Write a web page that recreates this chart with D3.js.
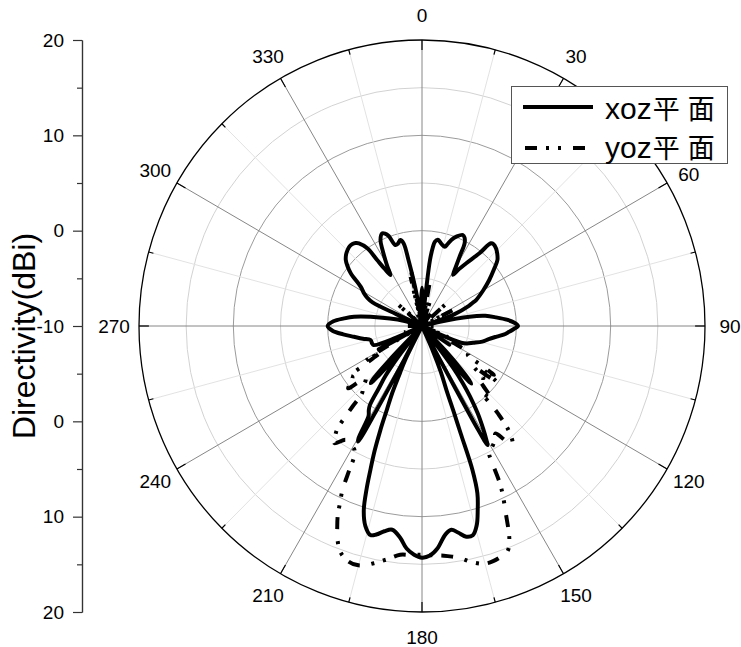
<!DOCTYPE html>
<html><head><meta charset="utf-8">
<script src="https://cdn.jsdelivr.net/npm/d3@7"></script>
<style>body{margin:0;background:#fff}svg{display:block}</style>
</head><body>
<script>
// ---------- data ----------
const xozAngles = [0,2,4,6,6.5,7,8,8.8,10.5,12.1,14,16.2,17.5,19,21.5,24.4,26,27.5,28.7,30,31.5,33,35.5,38.6,40.1,41.5,43.9,46.5,49.1,52,55.9,60,64.6,65.6,67,70.6,73,74.5,76.6,79,81,83.4,86,88,90,92,94,96,98,101,104.4,108,111,113,115,117,121,124,125.5,135,136.5,137.5,138.5,139.2,140,141,142,143,144.2,145.5,147.2,149,150.3,150.9,151.3,151.6,152,155,156.3,157.5,158.9,159.6,160,160.5,161.5,163,164.5,166.2,168,170,171.7,173.5,176,178,180,182,184,186,188.4,190.5,192.5,194,196,197.7,199,199.9,201,202,203,204.2,205.3,206.6,207.5,208,208.6,209.2,209.8,211,212.5,213.6,215,216.5,218,219,220.5,221.5,222.2,223,224,225,239,241.9,244,246,248.7,251,254.9,258,261.1,264,267,270,273,275.5,277.7,280.1,283,285.8,288,293,294.5,295.3,297,299,302.4,306.2,308.5,310.6,313,315.3,317.5,319.4,321,322.4,324.6,325.5,326.5,327.9,329.5,330.7,332.3,334,336.5,338,339.5,341.6,343.5,345.7,347.3,348.3,349.9,351,352,356,358];
const xozDB = [-6,-7.5,-10.5,-10.5,-6.5,-3,-1.6,-1.05,-0.8,-0.96,-1.2,-1.34,-1,-0.46,0.1,0.48,0.3,-0.22,-1.7,-2.8,-3.7,-3,-1.92,-0.24,1.34,1.45,1.31,1,0.58,-0.3,-1.39,-2.5,-3.65,-4.1,-4.6,-6.5,-9,-10.5,-8.06,-4.87,-3.2,-2.1,-0.9,-0.2,0.18,-0.3,-0.8,-1.3,-2,-2.8,-3.4,-4.3,-4.9,-5.5,-8,-10.5,-10.5,-6.5,-10.5,-10.5,-6,-4,-2.5,-2,-3.5,-10.5,-8,-4.5,-2.6,-1,0.9,2.6,3.8,4.3,2.5,-3,-10.5,-10.5,-7.06,-4.8,-2.8,0,2,6,8.5,10.2,11.7,12.6,12.6,12,11.6,12,13.4,14.1,14.3,14,13.4,12.3,11.6,11.9,12.4,12.6,11.8,10.3,8,6.1,4,1.8,-0.5,-2.3,-4.5,-6,-10.5,-6,0,3.9,3.5,1,0.5,0,-2,-3.5,-6,-10.5,-6,-3,-1.9,-2.5,-5,-10.5,-10.5,-4.8,-10.5,-7,-4.5,-4.4,-4.35,-3.6,-2.7,-1.6,-0.5,0,-0.6,-1.7,-2.73,-4.46,-6.5,-7.96,-10.5,-10.5,-7,-4.2,-3.5,-3,-2.3,-0.64,0.1,0.64,1,1.22,1.35,1.33,1.2,0.95,0,-1.6,-2.8,-3.7,-2.8,-2.06,-1,0.04,0.6,0.45,0.08,-1.04,-1,-0.69,-1.1,-2.93,-5.8,-8,-10.5,-10.5,-7.5];

const yozAngles = [0,3,8,10.2,12,16,18.2,20.5,34,36,38,45,47.5,50,60,63,65.5,70,72,74,88,90,92,110,113,115.5,118,120,122.1,123.2,124,125,126.6,128,130,132,134,136,137.7,138.7,140,142.1,143.5,145.4,147,149,151.9,152.5,153.6,155.7,157.6,159,160.9,163,165.2,168.1,170.5,172.5,174.5,176.8,179,181,183,185.5,188.6,191.6,193.5,195.3,197.5,199.9,201.7,203,204.1,205.1,206.1,207,207.7,209,211,214,217.1,218.5,219.8,220.5,221.1,222,224,227.5,230.1,232,234.2,235.5,236.4,237.8,238.4,240,243,248,250,252,268,270,272,283,285,287,309,311.8,313,314,316,320,322,324,338,340,342,345.5,346.8,347.6,348.6,349.5,352,356,358];
const yozDB = [-8,-10.5,-10.5,-5.3,-10.5,-10.5,-7.3,-10.5,-10.5,-8,-10.5,-10.5,-6.6,-10.5,-10.5,-5.9,-10.5,-10.5,-8,-10.5,-10.5,-8.5,-10.5,-10.5,-7,-10.5,-6,-4.3,-4.27,-2.5,-0.8,-2,0,-3,-1.5,-2.05,-1,0.5,-0.45,2.1,4.25,5.6,5,3.7,4.2,4.6,5.1,5.9,8.8,11.6,14.3,15.3,15.6,15.8,15.8,15.3,14.7,14.4,14.2,14.1,14,14,14.05,14.1,14.75,15.4,15.8,16,15.9,15.3,14.2,13,11.9,10.5,9.15,7,5.5,4.8,4.6,4.4,5.4,4.8,4,2.5,1.2,-0.5,-1,-1.9,0.2,-0.5,-0.9,-0.8,-2.6,-4.8,-3,-5,-10.5,-10.5,-8,-10.5,-10.5,-8.5,-10.5,-10.5,-9,-10.5,-10.5,-6.5,-10.5,-7.85,-10.5,-10.5,-9,-10.5,-10.5,-8.5,-10.5,-10.5,-4.7,-10.5,-4,-10.5,-10.5,-9,-10.5];

const seriesNames = ["xoz", "yoz"];
const seriesSuffix = ["平", "面"];
const angleTicks = [0,30,60,90,120,150,180,210,240,270,300,330];
const ringMajor = [0,10];
const ringMinor = [-5,5,15];
const leftMajor = [-10,0,10,20];
const leftMajorLower = [0,10,20];
const leftMinor = [-5,5,15];
const axisTitle = "Directivity(dBi)";

// ---------- layout ----------
const W = 741, H = 647, cx = 422, cy = 326, R = 286, sx = 283/286;
const FONT = "'Liberation Sans', Arial, sans-serif";
const CJK = "'Noto Sans CJK SC', sans-serif";

const svg = d3.select("body").append("svg").attr("width", W).attr("height", H)
  .style("font-family", FONT);
svg.append("rect").attr("width", W).attr("height", H).attr("fill", "#fff");

const r = d3.scaleLinear().domain([-10, 20]).range([0, R]).clamp(true);
const rad = d => d * Math.PI / 180;

const polar = svg.append("g").attr("transform", `translate(${cx},${cy}) scale(${sx},1)`);

// rings
polar.selectAll("circle.minor").data(ringMinor).join("circle")
  .attr("r", d => r(d)).attr("fill", "none").attr("stroke", "#d2d2d2").attr("stroke-width", 1);
polar.selectAll("circle.major").data(ringMajor).join("circle")
  .attr("r", d => r(d)).attr("fill", "none").attr("stroke", "#9a9a9a").attr("stroke-width", 1);

// spokes
const spokes = d3.range(0, 360, 15);
polar.selectAll("line.spoke").data(spokes).join("line")
  .attr("x1", 0).attr("y1", 0)
  .attr("x2", d => R * Math.sin(rad(d))).attr("y2", d => -R * Math.cos(rad(d)))
  .attr("stroke", d => d % 30 === 0 ? "#858585" : "#e2e2e2").attr("stroke-width", 1);

// outer circle and ticks
polar.append("circle").attr("r", R).attr("fill", "none").attr("stroke", "#000").attr("stroke-width", 1.3);
polar.selectAll("line.tick").data(spokes).join("line")
  .attr("x1", d => R * Math.sin(rad(d))).attr("y1", d => -R * Math.cos(rad(d)))
  .attr("x2", d => (R - (d % 30 === 0 ? 10 : 5)) * Math.sin(rad(d)))
  .attr("y2", d => -(R - (d % 30 === 0 ? 10 : 5)) * Math.cos(rad(d)))
  .attr("stroke", "#000").attr("stroke-width", 1.2);

// curves
const line = d3.lineRadial()
  .angle(d => rad(d[0]))
  .radius(d => r(d[1]))
  .curve(d3.curveCatmullRomClosed.alpha(0.5));

const yozPts = yozAngles.map((a, i) => [a, yozDB[i]]);
const xozPts = xozAngles.map((a, i) => [a, xozDB[i]]);
const DASH = "12,9,3,9,3,12";

polar.append("path").attr("d", line(xozPts)).attr("fill", "none")
  .attr("stroke", "#000").attr("stroke-width", 4).attr("stroke-linejoin", "round");
polar.append("path").attr("d", line(yozPts)).attr("fill", "none")
  .attr("stroke", "#000").attr("stroke-width", 4).attr("stroke-dasharray", DASH);

// angle labels
svg.append("g").selectAll("text").data(angleTicks).join("text")
  .attr("x", d => cx + 308 * Math.sin(rad(d)))
  .attr("y", d => cy - 311 * Math.cos(rad(d)) + (d === 60 ? 4 : 0))
  .attr("text-anchor", "middle").attr("dominant-baseline", "central")
  .attr("font-size", 19).attr("fill", "#000").text(d => d);

// left axis
const yTop = d3.scaleLinear().domain([-10, 20]).range([cy, cy - R]);
const yBot = d3.scaleLinear().domain([-10, 20]).range([cy, cy + R]);
const fmt = d => String(d);
const axG = svg.append("g").attr("transform", "translate(82,0)");
function styleAxis(g) {
  g.selectAll("path.domain").attr("stroke", "#333").attr("stroke-width", 1.2);
  g.selectAll(".tick line").attr("stroke", "#333").attr("stroke-width", 1.2);
  g.selectAll(".tick text").attr("font-size", 19).attr("font-family", FONT).attr("fill", "#000");
}
axG.append("g").call(d3.axisLeft(yTop).tickValues(leftMajor).tickSize(9).tickSizeOuter(0).tickPadding(9).tickFormat(fmt)).call(styleAxis);
axG.append("g").call(d3.axisLeft(yBot).tickValues(leftMajorLower).tickSize(9).tickSizeOuter(0).tickPadding(9).tickFormat(fmt)).call(styleAxis);
axG.append("g").call(d3.axisLeft(yTop).tickValues(leftMinor).tickSize(5).tickSizeOuter(0).tickFormat("")).call(styleAxis);
axG.append("g").call(d3.axisLeft(yBot).tickValues(leftMinor).tickSize(5).tickSizeOuter(0).tickFormat("")).call(styleAxis);

svg.append("text").attr("transform", "translate(35,336) rotate(-90)")
  .attr("text-anchor", "middle").attr("font-size", 32).attr("fill", "#000").text(axisTitle);

// legend
const lg = svg.append("g");
lg.append("rect").attr("x", 511.5).attr("y", 86.5).attr("width", 216).attr("height", 77)
  .attr("fill", "#fff").attr("stroke", "#555").attr("stroke-width", 1);
const rows = [{y: 107, dash: null, dy: 12}, {y: 148, dash: DASH, dy: 10}];
rows.forEach((row, i) => {
  lg.append("line").attr("x1", i === 0 ? 523 : 525).attr("x2", i === 0 ? 593 : 586)
    .attr("y1", row.y).attr("y2", row.y)
    .attr("stroke", "#000").attr("stroke-width", 4).attr("stroke-dasharray", row.dash);
  const t = lg.append("text").attr("x", 605).attr("y", row.y + row.dy).attr("font-size", 30).attr("fill", "#000");
  t.append("tspan").text(seriesNames[i]);
  t.append("tspan").attr("font-family", CJK).attr("font-size", 27).attr("dx", 1).text(seriesSuffix[0]);
  t.append("tspan").attr("font-family", CJK).attr("font-size", 27).attr("dx", 8).text(seriesSuffix[1]);
});
</script>
</body></html>
